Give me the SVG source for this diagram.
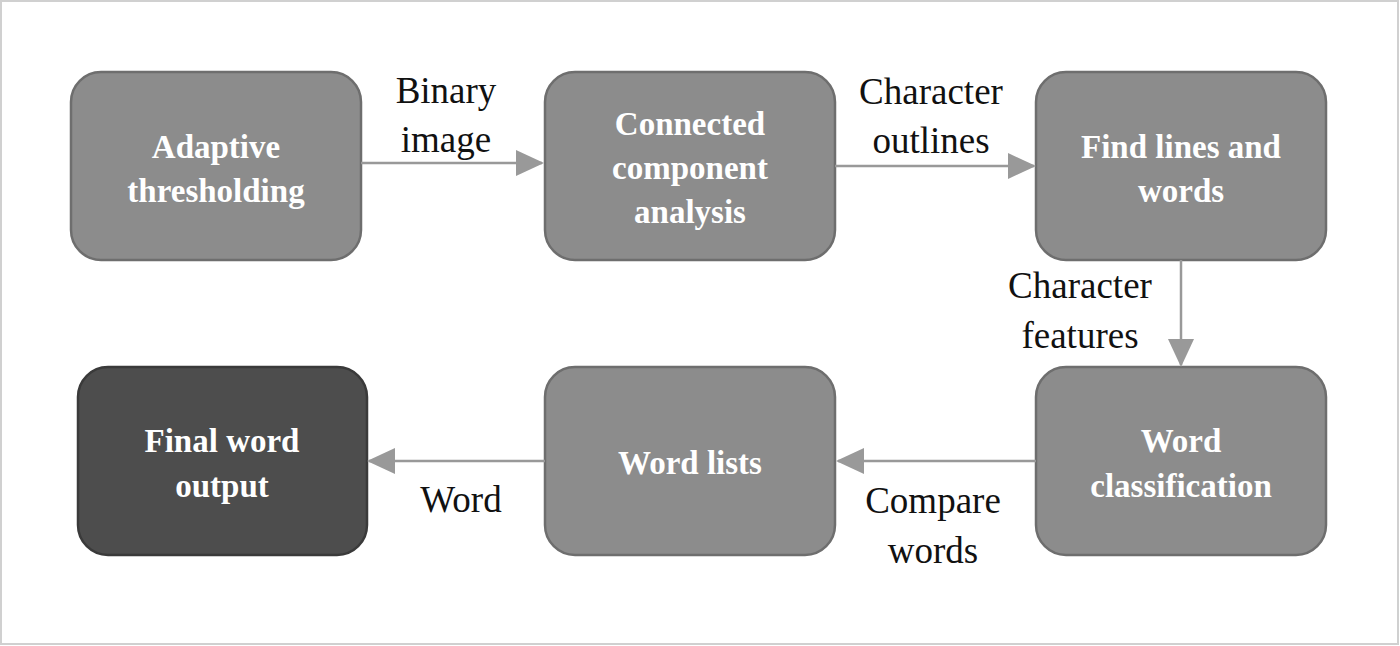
<svg xmlns="http://www.w3.org/2000/svg" width="1400" height="646" viewBox="0 0 1400 646">
<style>
.b{fill:#8c8c8c;stroke:#6e6e6e;stroke-width:2.5}
.d{fill:#4d4d4d;stroke:#3a3a3a;stroke-width:2.5}
.t{font-family:"Liberation Serif",serif;font-weight:bold;font-size:33px;fill:#fff;text-anchor:middle}
.l{font-family:"Liberation Serif",serif;font-size:37px;fill:#111;text-anchor:middle}
.c{stroke:#999;stroke-width:2.5;fill:none;marker-end:url(#a)}
</style>
<defs><marker id="a" markerUnits="userSpaceOnUse" markerWidth="28" markerHeight="26" refX="26" refY="13" orient="auto"><path d="M0,0L28,13L0,26z" fill="#999"/></marker></defs>
<rect x="1" y="1" width="1397" height="643" fill="#fff" stroke="#d0d0d0" stroke-width="2"/>
<g id="n1"><rect class="b" x="71" y="72" width="290" height="188" rx="30"/><text class="t" x="216" y="158">Adaptive</text><text class="t" x="216" y="202">thresholding</text></g>
<g id="n2"><rect class="b" x="545" y="72" width="290" height="188" rx="30"/><text class="t" x="690" y="135">Connected</text><text class="t" x="690" y="179">component</text><text class="t" x="690" y="223">analysis</text></g>
<g id="n3"><rect class="b" x="1036" y="72" width="290" height="188" rx="30"/><text class="t" x="1181" y="158">Find lines and</text><text class="t" x="1181" y="202">words</text></g>
<g id="n4"><rect class="b" x="1036" y="367" width="290" height="188" rx="30"/><text class="t" x="1181" y="452">Word</text><text class="t" x="1181" y="497">classification</text></g>
<g id="n5"><rect class="b" x="545" y="367" width="290" height="188" rx="30"/><text class="t" x="690" y="474">Word lists</text></g>
<g id="n6"><rect class="d" x="78" y="367" width="289" height="188" rx="30"/><text class="t" x="222" y="452">Final word</text><text class="t" x="222" y="497">output</text></g>
<g id="edges">
<path class="c" d="M361,163H542"/>
<path class="c" d="M835,166H1034"/>
<path class="c" d="M1181,260V365"/>
<path class="c" d="M1036,461H838"/>
<path class="c" d="M545,461H369"/>
</g>
<g id="labels">
<text class="l" x="446" y="103">Binary</text><text class="l" x="446" y="152">image</text>
<text class="l" x="931" y="104">Character</text><text class="l" x="931" y="153">outlines</text>
<text class="l" x="1080" y="298">Character</text><text class="l" x="1080" y="348">features</text>
<text class="l" x="933" y="513">Compare</text><text class="l" x="933" y="563">words</text>
<text class="l" x="461" y="512">Word</text>
</g>
</svg>
